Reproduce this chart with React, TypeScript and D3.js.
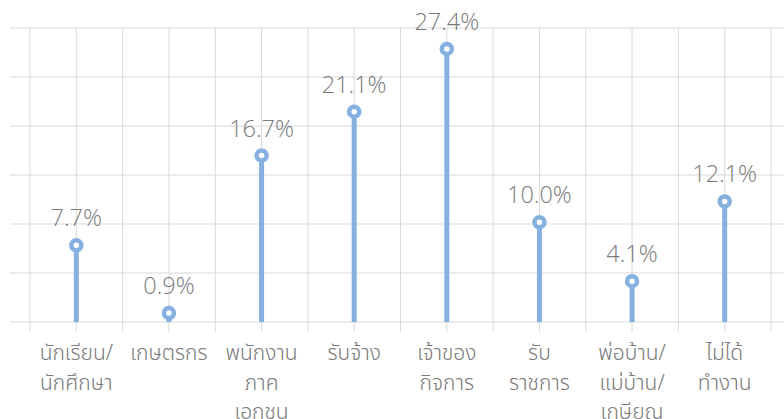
import React from "react";
import * as d3 from "d3";

const categories: string[][] = [
  ["นักเรียน/", "นักศึกษา"],
  ["เกษตรกร"],
  ["พนักงาน", "ภาค", "เอกชน"],
  ["รับจ้าง"],
  ["เจ้าของ", "กิจการ"],
  ["รับ", "ราชการ"],
  ["พ่อบ้าน/", "แม่บ้าน/", "เกษียณ"],
  ["ไม่ได้", "ทำงาน"],
];
const values: number[] = [7.7, 0.9, 16.7, 21.1, 27.4, 10.0, 4.1, 12.1];
const yMax = 29.5;
const gridCount = 6;

const W = 784;
const H = 419;
const LABEL_FONT = "'Open Sans', 'Noto Sans Thai', 'Noto Sans', sans-serif";
const THAI_FONT = "'Noto Sans Thai', 'Noto Sans', 'DejaVu Sans', sans-serif";

export default function App() {
  const keys = categories.map((c, i) => String(i));
  const x = d3.scaleBand<string>().domain(keys).range([30, 771]);
  const y = d3.scaleLinear().domain([0, yMax]).range([322, 28]);
  const gridVals = d3.range(gridCount + 1).map((i) => (i * yMax) / gridCount);
  const grid = "#d9d9d9";
  const blue = "#85b0df";
  const gray = "#7a7a7a";

  const vLines: number[] = [];
  keys.forEach((k) => {
    vLines.push(x(k)!);
    vLines.push(x(k)! + x.bandwidth() / 2);
  });
  vLines.push(x(keys[keys.length - 1])! + x.bandwidth());

  return (
    <svg
      width={W}
      height={H}
      style={{ position: "absolute", left: 0, top: 0, background: "#fff" }}
    >
      {gridVals.map((t, i) => (
        <line key={"h" + i} x1={10} x2={W} y1={y(t)} y2={y(t)} stroke={grid} strokeWidth={1} />
      ))}
      {vLines.map((vx, i) => (
        <line key={"v" + i} x1={vx} x2={vx} y1={y(yMax)} y2={332} stroke={grid} strokeWidth={1} />
      ))}
      {values.map((v, i) => {
        const cx = x(keys[i])! + x.bandwidth() / 2;
        return (
          <g key={"m" + i}>
            <line x1={cx} x2={cx} y1={y(0)} y2={y(v)} stroke={blue} strokeWidth={5} />
            <circle cx={cx} cy={y(v)} r={5} fill="#fff" stroke={blue} strokeWidth={4.5} />
            <text
              x={cx}
              y={Math.max(30, y(v) - 19)}
              textAnchor="middle"
              fontSize={23.5}
              fontWeight={300}
              fontFamily={LABEL_FONT}
              fill={gray}
            >
              {v.toFixed(1) + "%"}
            </text>
          </g>
        );
      })}
      {categories.map((lines, i) => {
        const cx = x(keys[i])! + x.bandwidth() / 2;
        return (
          <text key={"c" + i} textAnchor="middle" fontSize={21} fontWeight={300} fontFamily={THAI_FONT} fill={gray}>
            {lines.map((l, j) => (
              <tspan key={j} x={cx} y={360 + j * 29.5}>
                {l}
              </tspan>
            ))}
          </text>
        );
      })}
    </svg>
  );
}
